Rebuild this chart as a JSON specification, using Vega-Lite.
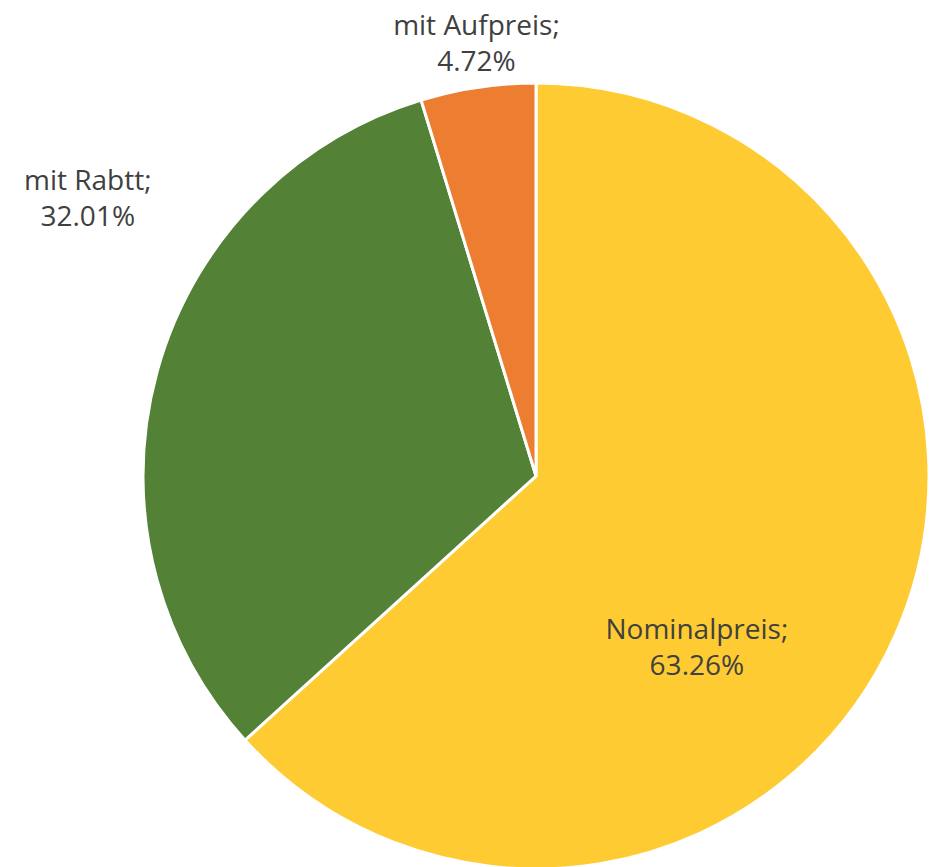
{
  "$schema": "https://vega.github.io/schema/vega-lite/v6.json",
  "width": 786,
  "height": 786,
  "autosize": {"type": "none"},
  "padding": {"left": 143, "top": 83, "right": 7, "bottom": 0},
  "background": "white",
  "view": {"stroke": null},
  "data": {"values": [
    {"kategorie": "Nominalpreis", "anteil": 63.26, "ordnung": 1, "label": "Nominalpreis;\n63.26%"},
    {"kategorie": "mit Rabtt", "anteil": 32.01, "ordnung": 2, "label": "mit Rabtt;\n32.01%"},
    {"kategorie": "mit Aufpreis", "anteil": 4.72, "ordnung": 3, "label": "mit Aufpreis;\n4.72%"}
  ]},
  "encoding": {
    "theta": {"field": "anteil", "type": "quantitative", "stack": true},
    "order": {"field": "ordnung", "type": "quantitative", "sort": "ascending"}
  },
  "layer": [
    {
      "mark": {"type": "arc", "stroke": "white", "strokeWidth": 3},
      "encoding": {
        "color": {
          "field": "kategorie", "type": "nominal", "legend": null,
          "scale": {"domain": ["Nominalpreis", "mit Rabtt", "mit Aufpreis"], "range": ["#FFCB33", "#538135", "#ED7D31"]}
        }
      }
    },
    {
      "mark": {"type": "text", "radius": 200, "dx": -22, "dy": 74, "font": "Open Sans", "fontSize": 28, "lineHeight": 36, "lineBreak": "\n", "color": "#404040", "align": "center", "baseline": "middle"},
      "encoding": {
        "text": {"condition": {"test": "datum.kategorie === 'Nominalpreis'", "field": "label"}, "value": ""}
      }
    },
    {
      "mark": {"type": "text", "radius": 437, "dx": 5, "dy": -17, "font": "Open Sans", "fontSize": 28, "lineHeight": 36, "lineBreak": "\n", "color": "#404040", "align": "center", "baseline": "middle"},
      "encoding": {
        "text": {"condition": {"test": "datum.kategorie === 'mit Aufpreis'", "field": "label"}, "value": ""}
      }
    },
    {
      "mark": {"type": "text", "radius": 440, "dx": -24, "dy": -177, "font": "Open Sans", "fontSize": 28, "lineHeight": 36, "lineBreak": "\n", "color": "#404040", "align": "center", "baseline": "middle"},
      "encoding": {
        "text": {"condition": {"test": "datum.kategorie === 'mit Rabtt'", "field": "label"}, "value": ""}
      }
    }
  ]
}
